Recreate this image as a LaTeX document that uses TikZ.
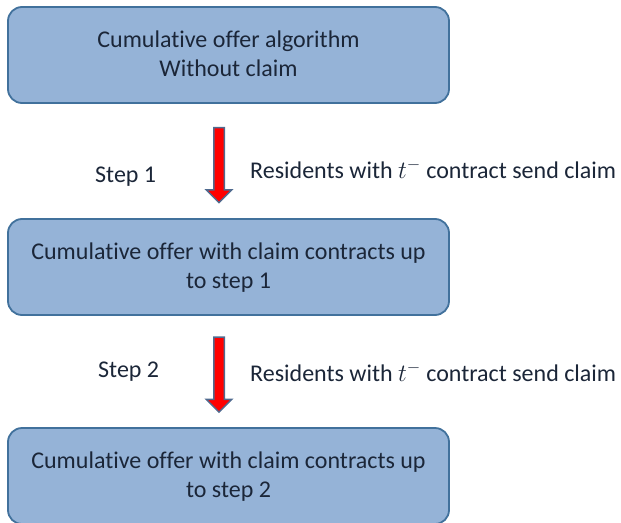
\documentclass[tikz,border=0pt]{standalone}
\usepackage{fontspec}
\setmainfont{Carlito}[Ligatures=NoCommon]
\usetikzlibrary{shapes.arrows}
\definecolor{boxfill}{HTML}{95B3D7}
\definecolor{boxline}{HTML}{41719C}
\definecolor{txt}{HTML}{1B2638}
\definecolor{arrline}{HTML}{4F6A8F}
\tikzset{
  stage/.style={draw=boxline, line width=1.8pt, fill=boxfill, rounded corners=14pt,
    minimum width=441pt, minimum height=96pt, align=center, text=txt,
    text depth=3pt, font=\fontsize{24}{29}\selectfont},
  blockarrow/.style={single arrow, draw=arrline, fill=red, line width=1.5pt,
    rotate=-90, minimum height=75pt, inner sep=4.5pt,
    single arrow head extend=7.5pt, single arrow head indent=0pt},
  lbl/.style={text=txt, font=\fontsize{24}{29}\selectfont, anchor=west, inner sep=0pt}
}
\begin{document}
\begin{tikzpicture}[x=1pt,y=-1pt]
  \useasboundingbox (0,0) rectangle (621,522);
  \node[stage] (s0) at (228.5,55) {Cumulative offer algorithm\\Without claim};
  \node[stage] (s1) at (228.5,267) {Cumulative offer with claim contracts up\\to step 1};
  \node[stage] (s2) at (228.5,476) {Cumulative offer with claim contracts up\\to step 2};
  \node[blockarrow] (a1) at (219,162.5) {};
  \node[blockarrow] (a2) at (219,372) {};
  \node[lbl] (st1) at (95,177) {Step 1};
  \node[lbl] (r1) at (250,169) {Residents with $t^{-}$ contract send claim};
  \node[lbl] (st2) at (98,372) {Step 2};
  \node[lbl] (r2) at (250,372) {Residents with $t^{-}$ contract send claim};
\end{tikzpicture}
\end{document}
